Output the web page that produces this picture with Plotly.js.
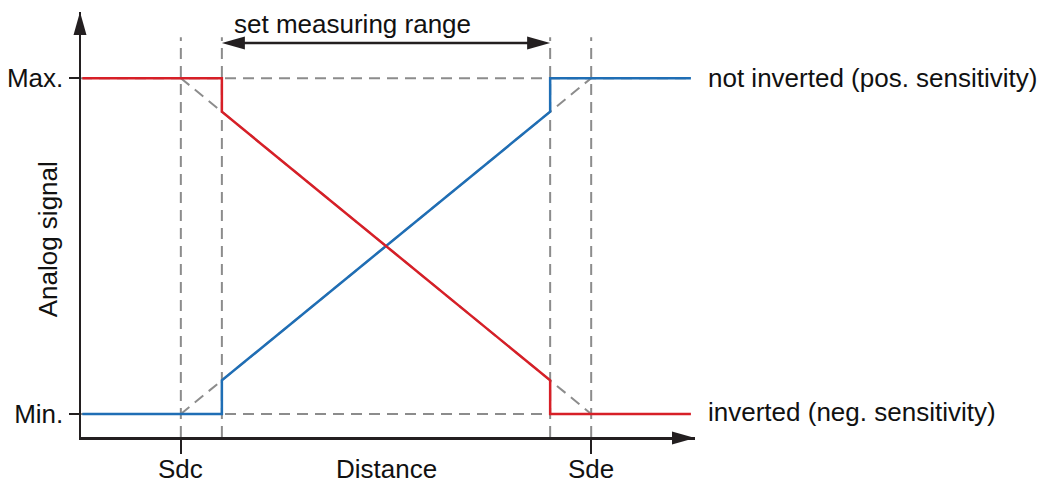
<!DOCTYPE html>
<html>
<head>
<meta charset="utf-8">
<script src="https://cdn.plot.ly/plotly-3.0.1.min.js"></script>
<style>html,body{margin:0;padding:0;background:#fff}#chart{width:1054px;height:484px}</style>
</head>
<body>
<div id="chart"></div>
<script>
// ---- data ----
const distanceX = [-2.4, 1, 1, 9, 9, 12.43];          // distance positions (Sdc = 0, Sde = 10)
const notInvertedY = [0, 0, 0.1, 0.9, 1, 1];         // positive sensitivity signal
const invertedY = [1, 1, 0.9, 0.1, 0, 0];            // negative sensitivity signal
const idealX = [0, 10];                               // ideal characteristic Sdc -> Sde
const idealRiseY = [0, 1];
const idealFallY = [1, 0];
const xTickVals = [0, 10];
const xTickText = ['Sdc', 'Sde'];
const yTickVals = [0, 1];
const yTickText = ['Min.', 'Max.'];
const guideX = [0, 1, 9, 10];                          // Sdc, range start, range end, Sde
const levelY = [0, 1];                                 // Min., Max.
const rangeStart = 1, rangeEnd = 9;

const RED = '#d71f27', BLUE = '#1f6eb5', GRAY = '#8c8c8c', AX = '#231f20';
const FONT = {family: 'Liberation Sans, Arial, sans-serif', size: 26, color: '#111111'};
const DASH = '11px,7px';
const xr = [-2.433, 12.53], yr = [-0.0687, 1.197];
const guideTop = 1.122, arrowY = 1.1045;

const traces = [
  {x: idealX, y: idealRiseY, mode: 'lines', line: {color: GRAY, width: 2, dash: DASH}, hoverinfo: 'skip'},
  {x: idealX, y: idealFallY, mode: 'lines', line: {color: GRAY, width: 2, dash: DASH}, hoverinfo: 'skip'},
  {x: distanceX, y: notInvertedY, mode: 'lines', line: {color: BLUE, width: 2.5}, name: 'not inverted'},
  {x: distanceX, y: invertedY, mode: 'lines', line: {color: RED, width: 2.5}, name: 'inverted'}
];

const shapes = [];
guideX.forEach(v => shapes.push({type: 'line', xref: 'x', yref: 'y', x0: v, x1: v, y0: yr[0], y1: guideTop,
  line: {color: GRAY, width: 2, dash: DASH}, layer: 'below'}));
levelY.forEach(v => shapes.push({type: 'line', xref: 'x', yref: 'y', x0: xr[0], x1: 12.43, y0: v, y1: v,
  line: {color: GRAY, width: 2, dash: DASH}, layer: 'below'}));
// measuring range arrow
shapes.push({type: 'line', xref: 'x', yref: 'y', x0: rangeStart + 0.2, x1: rangeEnd - 0.2, y0: arrowY, y1: arrowY,
  line: {color: AX, width: 2.5}});
shapes.push({type: 'path', xref: 'x', yref: 'y', xsizemode: 'pixel', ysizemode: 'pixel',
  xanchor: rangeStart, yanchor: arrowY, path: 'M0,0 L23,6.5 L23,-6.5 Z', fillcolor: AX, line: {width: 0}});
shapes.push({type: 'path', xref: 'x', yref: 'y', xsizemode: 'pixel', ysizemode: 'pixel',
  xanchor: rangeEnd, yanchor: arrowY, path: 'M0,0 L-23,6.5 L-23,-6.5 Z', fillcolor: AX, line: {width: 0}});
// axis arrowheads
shapes.push({type: 'path', xref: 'paper', yref: 'paper', xsizemode: 'pixel', ysizemode: 'pixel',
  xanchor: 0, yanchor: 1, path: 'M-1,0 L-7.5,-23 L5.5,-23 Z', fillcolor: AX, line: {width: 0}});
shapes.push({type: 'path', xref: 'paper', yref: 'paper', xsizemode: 'pixel', ysizemode: 'pixel',
  xanchor: 1, yanchor: 0, path: 'M0,-1 L-23,5.5 L-23,-7.5 Z', fillcolor: AX, line: {width: 0}});

const annotations = [
  {xref: 'x', yref: 'y', x: rangeStart, y: 1.16, xanchor: 'left', yanchor: 'middle', xshift: 10,
   text: 'set measuring range', showarrow: false, font: FONT},
  {xref: 'paper', yref: 'y', x: 1, y: 1, xanchor: 'left', yanchor: 'middle', xshift: 11,
   text: 'not inverted (pos. sensitivity)', showarrow: false, font: FONT},
  {xref: 'paper', yref: 'y', x: 1, y: 0, xanchor: 'left', yanchor: 'middle', xshift: 11, yshift: 2,
   text: 'inverted (neg. sensitivity)', showarrow: false, font: FONT},
  {xref: 'x', yref: 'paper', x: 5, y: 0, xanchor: 'center', yanchor: 'middle', yshift: -32,
   text: 'Distance', showarrow: false, font: FONT},
  {xref: 'paper', yref: 'y', x: 0, y: 0.52, xanchor: 'center', yanchor: 'middle', xshift: -33,
   text: 'Analog signal', textangle: -90, showarrow: false, font: FONT}
];
xTickVals.forEach((v, i) => annotations.push({xref: 'x', yref: 'paper', x: v, y: 0, xanchor: 'center',
  yanchor: 'middle', yshift: -32, text: xTickText[i], showarrow: false, font: FONT}));

const layout = {
  width: 1054, height: 484,
  margin: {l: 81, r: 359, t: 12, b: 47},
  paper_bgcolor: '#fff', plot_bgcolor: '#fff',
  showlegend: false,
  font: FONT,
  xaxis: {range: xr, showgrid: false, zeroline: false, showline: true, linecolor: AX, linewidth: 2.5,
    tickmode: 'array', tickvals: xTickVals, ticktext: xTickText, showticklabels: false,
    ticks: 'outside', ticklen: 14, tickwidth: 2.5, tickcolor: AX, fixedrange: true},
  yaxis: {range: yr, showgrid: false, zeroline: false, showline: true, linecolor: AX, linewidth: 2.5,
    tickmode: 'array', tickvals: yTickVals, ticktext: yTickText, ticks: 'outside', ticklen: 10,
    tickwidth: 2.5, tickcolor: AX, tickfont: FONT, fixedrange: true},
  shapes: shapes,
  annotations: annotations
};

Plotly.newPlot('chart', traces, layout, {displayModeBar: false, staticPlot: true});
</script>
</body>
</html>
